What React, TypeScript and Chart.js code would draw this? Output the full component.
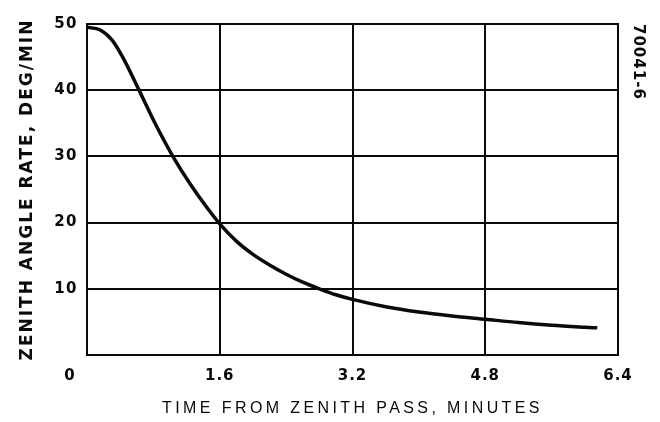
import React, { useEffect, useRef } from "react";
import { Chart, registerables } from "chart.js";

Chart.register(...registerables);

// Data
const timeMinutes = [0, 0.16, 0.3, 0.43, 0.62, 0.82, 1.04, 1.24, 1.45, 1.6, 1.8, 2.0, 2.2, 2.4, 2.6, 2.8, 3.0, 3.2, 3.6, 4.0, 4.4, 4.8, 5.2, 5.6, 6.0, 6.15];
const zenithRate = [49.5, 49.1, 47.6, 45.0, 40.2, 35.0, 29.9, 25.9, 22.2, 19.8, 17.2, 15.2, 13.6, 12.2, 11.0, 10.0, 9.1, 8.4, 7.3, 6.5, 5.9, 5.4, 4.9, 4.5, 4.2, 4.1];
const xTicks = [0, 1.6, 3.2, 4.8, 6.4];
const xTickLabels = ["0", "1.6", "3.2", "4.8", "6.4"];
const yTicks = [0, 10, 20, 30, 40, 50];
const yTickLabels = ["", "10", "20", "30", "40", "50"];
const xTitle = "TIME FROM ZENITH PASS, MINUTES";
const yTitle = "ZENITH ANGLE RATE, DEG/MIN";
const figureId = "70041-6";

const INK = "#0a0a0a";

const spacingPlugin = {
  id: "letterSpacingPatch",
  beforeDraw(chart: any) {
    const cfg: Record<string, { title: string; labels: string; shiftFirst?: number }> = {
      x: { title: "3.4px", labels: "1px", shiftFirst: -17 },
      y: { title: "2px", labels: "1.5px" },
      y2: { title: "1px", labels: "0px" },
    };
    for (const id of Object.keys(cfg)) {
      const s: any = chart.scales[id];
      if (!s || s.__patched) continue;
      s.__patched = true;
      const c = cfg[id];
      const dt = s.drawTitle.bind(s);
      s.drawTitle = (...a: any[]) => {
        const ctx: any = chart.ctx;
        ctx.save();
        ctx.letterSpacing = c.title;
        dt(...a);
        ctx.restore();
      };
      const dl = s.drawLabels.bind(s);
      s.drawLabels = (...a: any[]) => {
        const ctx: any = chart.ctx;
        ctx.save();
        ctx.letterSpacing = c.labels;
        dl(...a);
        ctx.restore();
      };
      if (c.shiftFirst) {
        const gi = s.getLabelItems.bind(s);
        s.getLabelItems = (...a: any[]) => {
          const items = gi(...a);
          if (items && items[0] && !items[0].__shifted) {
            items[0].__shifted = true;
            items[0].options.translation[0] += c.shiftFirst;
          }
          return items;
        };
      }
    }
  },
};

const whiteBg = {
  id: "whiteBg",
  beforeDraw(chart: any) {
    const ctx = chart.ctx;
    ctx.save();
    ctx.fillStyle = "#ffffff";
    ctx.fillRect(0, 0, chart.width, chart.height);
    ctx.restore();
  },
};

export default function App() {
  const ref = useRef<HTMLCanvasElement | null>(null);

  useEffect(() => {
    document.body.style.margin = "0";
    const canvas = ref.current;
    if (!canvas) return;
    const chart = new Chart(canvas, {
      type: "line",
      data: {
        datasets: [
          {
            data: timeMinutes.map((t, i) => ({ x: t, y: zenithRate[i] })),
            borderColor: INK,
            borderWidth: 3.5,
            pointRadius: 0,
            cubicInterpolationMode: "monotone",
            fill: false,
            xAxisID: "x",
            yAxisID: "y",
          },
        ],
      },
      options: {
        responsive: false,
        animation: false,
        devicePixelRatio: 1,
        layout: { padding: { top: 24, left: 0, right: 0, bottom: 0 } },
        plugins: { legend: { display: false }, tooltip: { enabled: false } },
        scales: {
          x: {
            type: "linear",
            position: "bottom",
            min: 0,
            max: 6.4,
            afterBuildTicks: (s: any) => {
              s.ticks = xTicks.map((v) => ({ value: v }));
            },
            afterFit: (s: any) => {
              s.height = 67;
            },
            ticks: {
              padding: 12,
              color: INK,
              font: { family: "DejaVu Sans", size: 15, weight: "bold" },
              callback: (v: any) => {
                const i = xTicks.indexOf(Number(v));
                return i >= 0 ? xTickLabels[i] : "";
              },
            },
            grid: { color: INK, lineWidth: 2, drawTicks: false },
            border: { color: INK, width: 2 },
            title: {
              display: true,
              text: xTitle,
              color: INK,
              font: { family: "Liberation Sans", size: 16 },
              padding: { top: 0, bottom: 4 },
            },
          },
          y: {
            type: "linear",
            position: "left",
            min: 0,
            max: 50,
            afterBuildTicks: (s: any) => {
              s.ticks = yTicks.map((v) => ({ value: v }));
            },
            afterFit: (s: any) => {
              s.width = 87;
            },
            ticks: {
              padding: 9,
              color: INK,
              font: { family: "DejaVu Sans", size: 15, weight: "bold" },
              callback: (v: any) => {
                const i = yTicks.indexOf(Number(v));
                return i >= 0 ? yTickLabels[i] : "";
              },
            },
            grid: { color: INK, lineWidth: 2, drawTicks: false },
            border: { color: INK, width: 2 },
            title: {
              display: true,
              text: yTitle,
              color: INK,
              font: { family: "DejaVu Sans", size: 17, weight: "bold" },
              padding: { top: 17, bottom: 0 },
            },
          },
          y2: {
            type: "linear",
            position: "right",
            min: 0,
            max: 50,
            afterFit: (s: any) => {
              s.width = 42;
            },
            ticks: { display: false },
            grid: { display: false, drawTicks: false },
            border: { display: true, color: INK, width: 2 },
            title: {
              display: true,
              text: figureId,
              align: "end",
              color: INK,
              font: { family: "DejaVu Sans", size: 15, weight: "bold" },
              padding: { top: 13, bottom: 0 },
            },
          },
        },
      },
      plugins: [whiteBg, spacingPlugin],
    } as any);
    return () => chart.destroy();
  }, []);

  return (
    <div style={{ width: 660, height: 422, background: "#fff" }}>
      <canvas ref={ref} width={660} height={422} style={{ display: "block" }} />
    </div>
  );
}
